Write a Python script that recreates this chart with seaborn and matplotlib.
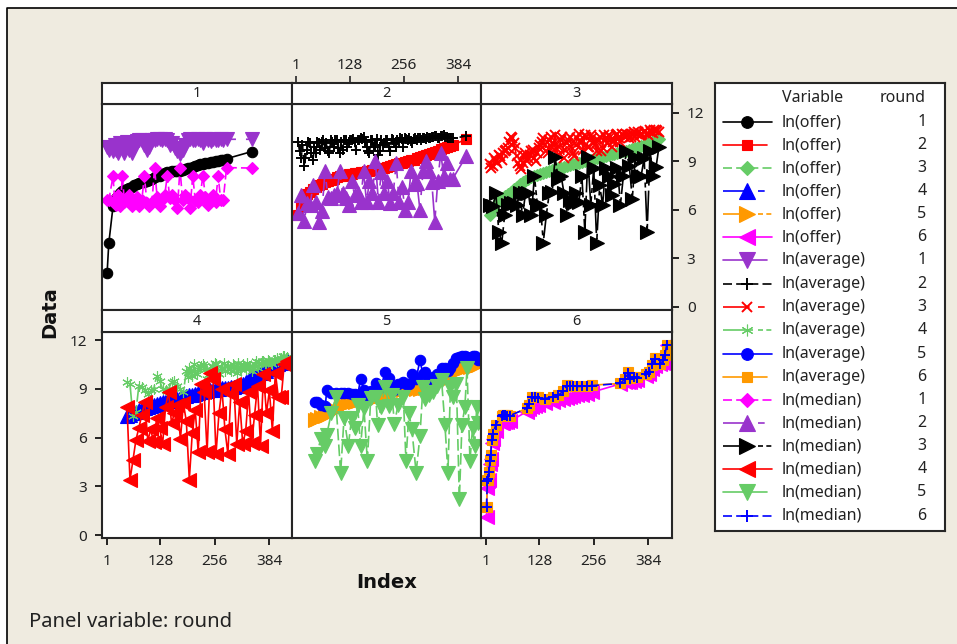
import pandas as pd
import matplotlib
matplotlib.use("Agg")
import matplotlib.pyplot as plt
import seaborn as sns

W, H = 957, 644
BG = "#EFEBE0"

x1 = [2,6,16,20,24,28,33,38,43,48,54,60,66,72,78,84,90,96,102,108,114,120,126,132,138,144,150,156,162,168,174,180,186,192,198,204,210,216,222,228,234,240,246,252,258,264,270,276,284,343]
offer1 = [2.06,3.92,6.2,6.5,6.7,6.85,7.0,7.13,7.2,7.28,7.36,7.42,7.5,7.56,7.62,7.68,7.72,7.78,7.85,7.92,8.0,8.05,8.1,8.18,8.24,8.3,8.34,8.37,8.38,8.4,8.42,8.45,8.5,8.55,8.6,8.65,8.7,8.75,8.8,8.85,8.88,8.9,8.93,8.96,9.0,9.02,9.05,9.1,9.15,9.59]
average1 = [9.85,9.7,9.6,10.0,9.7,9.5,10.1,9.8,9.5,10.2,9.7,9.5,9.9,10.25,10.3,10.3,10.0,9.7,9.9,10.3,10.3,10.35,10.35,10.3,10.35,10.3,10.0,10.1,9.8,9.6,9.45,9.7,10.0,10.3,10.35,10.3,10.3,10.35,10.3,10.1,10.35,10.3,10.25,10.35,10.3,10.3,10.35,10.3,10.35,10.35]
median1 = [6.6,6.6,8.05,6.6,6.3,6.9,6.2,8.05,6.5,6.7,6.9,6.2,6.6,6.8,6.2,6.6,8.1,6.4,6.2,6.5,8.57,6.8,6.2,6.6,6.9,8.1,6.7,6.9,6.6,6.1,8.57,6.6,6.9,6.7,6.1,8.1,6.6,6.5,6.9,8.1,6.8,6.3,6.7,6.9,6.5,8.1,6.6,6.6,8.6,8.57]

x2 = [7,14,21,28,35,42,49,56,63,70,77,84,91,98,105,112,119,126,133,140,147,154,161,168,175,182,189,196,203,210,217,224,231,238,245,252,259,266,273,280,287,294,301,308,315,322,329,336,343,350,357,364,371,403]
offer2 = [5.68,6.3,6.75,6.95,7.1,7.25,7.4,7.5,7.6,7.7,7.78,7.85,7.92,8.0,8.05,8.1,8.15,8.18,8.22,8.25,8.28,8.32,8.35,8.38,8.42,8.46,8.5,8.53,8.56,8.6,8.65,8.7,8.75,8.8,8.86,8.9,8.95,9.0,9.05,9.1,9.17,9.23,9.3,9.36,9.43,9.5,9.57,9.65,9.72,9.8,9.85,9.92,9.98,10.36]
average2 = [10.2,9.2,8.7,9.7,10.1,9.1,9.5,10.1,10.2,9.8,9.6,10.3,9.9,10.3,9.5,9.7,10.3,10.2,10.3,10.2,10.3,10.4,10.5,9.9,9.5,10.3,10.0,9.4,10.3,10.1,10.3,9.6,10.3,9.9,10.2,10.35,10.4,10.3,10.25,10.35,10.3,10.45,10.4,10.35,10.45,10.5,10.55,10.4,10.55,10.6,10.5,10.45,10.4,10.55]
median2 = [5.8,6.9,5.3,6.4,6.3,7.55,6.5,5.25,5.9,8.36,6.8,6.7,6.9,7.0,8.36,7.0,6.7,6.3,7.75,6.9,7.0,6.5,8.36,6.5,7.75,7.0,8.98,6.5,8.35,7.0,7.75,6.4,7.0,8.88,6.5,7.4,5.98,6.5,8.36,7.6,7.65,5.98,8.36,8.98,8.36,7.7,5.25,7.75,9.5,8.1,8.9,7.9,7.9,9.3]
x2_extra = [10,17,24,31,38,45,52,59,66,73,80,87,94,101,108,115,122,129,136,143,150,157,164,171,178,185,192,199,206,213,220,227,234,241,248,255,262,269,276,283,290,297,304,311,318,325,332,339,346,353,360,367]
average2_extra = [9.6,10.0,9.2,10.2,9.5,9.9,10.2,9.7,10.3,10.1,9.5,10.2,10.3,9.8,10.2,10.3,9.9,10.3,10.35,9.7,10.3,10.35,10.2,9.6,10.3,9.9,10.35,9.6,10.0,10.3,9.9,10.35,10.1,10.3,10.4,9.9,10.35,10.4,10.1,10.45,10.4,10.3,10.45,10.5,10.4,10.5,10.55,10.45,10.55,10.5,10.45,10.4]

x3 = [11,18,25,32,39,46,53,60,67,74,81,88,95,102,109,116,123,130,137,144,151,158,165,172,179,186,193,200,207,214,221,228,235,242,249,256,263,270,277,284,291,298,305,312,319,326,333,340,347,354,361,368,375,382,389,396,403,410]
offer3 = [5.68,6.05,6.35,6.6,6.72,6.85,6.98,7.1,7.25,7.4,7.6,7.7,7.8,7.9,8.0,8.07,8.13,8.2,8.27,8.35,8.4,8.45,8.5,8.55,8.6,8.65,8.7,8.75,8.8,8.85,8.9,8.94,8.98,9.03,9.08,9.13,9.18,9.23,9.28,9.33,9.38,9.42,9.46,9.5,9.55,9.6,9.65,9.7,9.75,9.8,9.87,9.95,10.02,10.1,10.18,10.25,10.3,10.36]
average3 = [8.8,8.7,9.0,9.4,9.1,9.6,9.8,10.5,10.1,9.3,8.7,8.9,9.5,9.2,9.6,9.2,9.5,10.0,10.4,9.6,10.3,9.9,10.6,9.4,10.3,9.2,10.1,10.5,9.5,10.0,10.7,10.2,10.6,9.9,10.6,10.2,9.6,10.5,9.8,10.4,10.6,9.9,10.3,10.7,10.2,10.6,10.7,10.4,10.7,10.5,10.8,10.6,10.8,10.7,10.9,10.75,10.9,10.8]
median3 = [6.3,6.2,7.0,4.65,3.97,5.7,6.3,6.4,6.4,6.3,7.0,5.64,7.0,7.0,5.64,8.1,6.3,6.3,3.97,5.64,7.0,7.1,9.25,7.9,8.1,7.0,5.64,6.6,6.4,7.0,6.5,8.1,4.65,9.25,6.3,8.57,3.97,7.5,6.3,8.6,8.1,6.9,7.6,8.6,6.3,8.1,9.64,8.67,6.67,9.25,8.1,8.1,9.2,4.65,9.6,8.1,8.63,9.9]
x3_extra = [14,21,28,35,42,49,56,63,70,77,84,91,98,105,112,119,126,133,140,147,154,161,168,175,182,189,196,203,210,217,224,231,238,245,252,259,266,273,280,287,294,301,308,315,322,329,336,343,350,357,364,371,378,385,392,399,406]
average3_extra = [8.6,9.2,8.9,9.3,9.5,9.7,10.2,10.4,9.8,8.9,8.5,9.3,9.0,9.4,9.7,9.0,9.8,10.2,10.0,9.5,10.5,10.1,9.8,9.9,10.5,9.7,10.3,9.9,9.3,10.4,10.2,9.7,10.5,9.9,10.4,10.0,10.3,9.6,10.6,10.1,10.5,10.2,10.6,10.4,10.7,10.5,10.6,10.5,10.8,10.7,10.6,10.7,10.85,10.6,10.8,10.9,10.85]

x4 = [49,56,63,70,77,84,91,98,105,112,119,126,133,140,147,154,161,168,175,182,189,196,203,210,217,224,231,238,245,252,259,266,273,280,287,294,301,308,315,322,329,336,343,350,357,364,371,378,385,392,399,406,413,420,427]
offer4 = [7.3,7.4,7.5,7.6,7.7,7.75,7.85,7.9,7.97,8.02,8.08,8.13,8.18,8.23,8.27,8.3,8.35,8.4,8.45,8.5,8.55,8.6,8.65,8.7,8.75,8.8,8.84,8.88,8.92,8.95,8.98,9.0,9.03,9.05,9.07,9.1,9.12,9.15,9.2,9.3,9.45,9.6,9.68,9.75,9.85,9.95,10.02,10.1,10.2,10.3,10.4,10.5,10.6,10.7,10.8]
average4 = [9.4,9.3,7.3,7.6,9.2,9.1,8.9,8.7,8.9,9.0,9.8,9.5,9.0,8.9,9.0,9.4,9.5,9.2,9.0,8.8,10.1,10.3,9.8,10.0,10.2,10.4,10.4,9.6,10.1,10.4,10.5,9.9,10.3,10.1,10.4,10.1,10.4,10.0,10.2,10.5,10.2,10.4,10.1,10.5,10.3,10.6,10.7,10.5,10.7,10.5,10.8,10.7,10.9,11.0,10.95]
median4 = [7.9,3.39,4.6,5.85,6.6,7.4,8.2,5.8,6.5,5.7,7.2,6.6,5.6,7.9,8.82,6.9,7.5,8.0,5.9,8.1,7.0,3.39,6.3,7.7,5.1,9.3,8.8,5.1,9.95,9.6,5.0,7.5,9.0,6.5,5.0,8.7,9.3,5.6,8.2,5.6,6.4,8.8,5.65,7.4,9.2,5.5,9.9,7.5,8.9,6.4,10.0,8.5,8.5,10.55,10.7]
x4_extra = [193,200,207,214,221,228,235,242,249,256,263,270,277,284,291,298,305,312,319,326,333,340,347,354,361,368,375,382,389,396,403,410,417,424]
average4_extra = [9.7,10.1,10.5,9.9,10.3,10.5,10.2,9.9,10.4,10.6,10.0,10.3,10.6,10.4,10.2,10.5,10.3,10.6,10.2,10.4,10.6,10.4,10.3,10.7,10.5,10.7,10.6,10.8,10.6,10.8,10.9,10.8,11.0,10.9]

x5 = [47,51,60,71,74,85,95,107,115,125,133,140,147,154,162,170,178,190,194,202,212,221,228,234,242,255,261,268,275,285,294,301,306,315,325,335,345,353,360,366,373,380,387,393,400,405,412,418,423,428,432]
offer5 = [7.08,7.12,7.25,7.35,7.4,7.55,7.7,7.9,8.0,8.12,8.18,8.22,8.27,8.3,8.33,8.36,8.38,8.45,8.48,8.55,8.6,8.68,8.74,8.8,8.87,8.93,8.95,8.97,8.98,9.0,9.02,9.05,9.08,9.12,9.22,9.32,9.45,9.6,9.75,9.85,9.98,10.1,10.2,10.25,10.3,10.33,10.37,10.4,10.42,10.45,10.46]
average5 = [8.21,8.21,8.0,7.94,8.93,8.75,8.75,8.75,8.72,8.75,8.7,8.7,8.6,9.6,8.9,8.6,8.85,9.33,9.2,9.1,10.05,9.64,9.1,8.9,9.3,9.44,9.3,9.3,9.9,9.6,10.77,9.9,10.05,9.6,9.7,9.9,10.26,10.3,10.1,10.3,10.6,10.9,10.97,11.0,11.0,10.95,10.9,11.0,11.0,10.9,10.77]
median5 = [4.58,5.0,5.9,5.5,6.16,7.5,8.47,3.84,7.2,5.5,7.2,6.57,8.0,5.5,7.8,4.58,8.41,8.5,6.77,7.9,9.1,7.94,8.6,6.83,8.0,8.47,4.58,7.5,6.5,3.84,6.1,9.1,8.4,8.6,8.8,9.2,9.54,6.77,3.84,9.1,8.47,9.3,2.2,6.77,7.9,10.26,4.58,6.6,5.5,7.9,6.9]

x6 = [3,5,7,9,11,13,15,18,25,39,43,47,51,58,98,104,110,118,125,140,159,172,184,192,200,208,216,228,240,253,318,330,338,342,350,357,380,387,393,401,412,420,424,428]
offer6 = [1.13,2.9,3.3,3.4,4.4,4.7,5.65,5.9,6.4,6.87,6.9,6.93,6.95,7.0,7.6,7.75,7.9,7.95,8.0,8.1,8.2,8.3,8.37,8.45,8.5,8.55,8.6,8.65,8.7,8.8,9.3,9.4,9.45,9.45,9.5,9.55,9.8,9.9,10.2,10.4,10.56,10.6,11.0,11.69]
average6 = [1.75,3.39,3.4,3.9,4.6,4.93,5.85,6.2,6.8,7.35,7.39,7.4,7.4,7.35,7.8,8.0,8.5,8.5,8.5,8.4,8.5,8.6,8.88,9.23,9.15,9.2,9.17,9.15,9.2,9.23,9.33,9.6,10.05,9.64,9.7,9.7,9.9,10.05,10.46,10.87,10.5,10.77,11.08,11.69]
median6 = [1.7,3.35,3.45,3.9,4.55,4.95,5.85,6.2,6.8,7.35,7.4,7.4,7.35,7.35,7.8,8.05,8.5,8.5,8.45,8.4,8.5,8.6,8.85,9.2,9.15,9.2,9.15,9.15,9.2,9.2,9.33,9.6,10.0,9.6,9.7,9.65,9.9,10.05,10.5,10.85,10.5,10.75,11.1,11.7]

x_ticks = [1, 128, 256, 384]
y_ticks = [0, 3, 6, 9, 12]
rounds = [1, 2, 3, 4, 5, 6]
variables = ["ln(offer)", "ln(average)", "ln(median)"]

# colour, marker, marker size, line style for every legend row
green = "#66CC66"
purple = "#9933CC"
orange = "#FF9900"
dash = (0, (5.4, 2.5))
long_dash = (0, (16, 5, 4, 5))
long_dots = (0, (18, 3, 3, 2, 3, 2))
styles = {
    ("ln(offer)", 1): ("black", "o", 7.5, "-"),
    ("ln(offer)", 2): ("red", "s", 6.5, "-"),
    ("ln(offer)", 3): (green, "D", 6.5, dash),
    ("ln(offer)", 4): ("blue", "^", 10, long_dash),
    ("ln(offer)", 5): (orange, ">", 10, long_dots),
    ("ln(offer)", 6): ("magenta", "<", 10, "-"),
    ("ln(average)", 1): (purple, "v", 10, "-"),
    ("ln(average)", 2): ("black", "+", 7.5, dash),
    ("ln(average)", 3): ("red", "x", 7, long_dash),
    ("ln(average)", 4): (green, (6, 2, 0), 7.5, long_dots),
    ("ln(average)", 5): ("blue", "o", 7.5, "-"),
    ("ln(average)", 6): (orange, "s", 6.5, "-"),
    ("ln(median)", 1): ("magenta", "D", 6.5, dash),
    ("ln(median)", 2): (purple, "^", 10, long_dash),
    ("ln(median)", 3): ("black", ">", 10, long_dots),
    ("ln(median)", 4): ("red", "<", 10, "-"),
    ("ln(median)", 5): (green, "v", 10, "-"),
    ("ln(median)", 6): ("blue", "+", 7.5, dash),
}

# the vertical runs of these series show a dash in the panels
panel_ls = {("ln(median)", 5): (0, (7, 2.5)), ("ln(average)", 1): (0, (9, 6))}
short_keys = [("ln(offer)", 2), ("ln(average)", 1), ("ln(average)", 6), ("ln(median)", 5)]

panels = {
    1: (x1, offer1, average1, median1),
    2: (x2, offer2, average2, median2),
    3: (x3, offer3, average3, median3),
    4: (x4, offer4, average4, median4),
    5: (x5, offer5, average5, median5),
    6: (x6, offer6, average6, median6),
}
extras = {
    ("ln(average)", 2): (x2_extra, average2_extra),
    ("ln(average)", 3): (x3_extra, average3_extra),
    ("ln(average)", 4): (x4_extra, average4_extra),
}

sns.set_style("white")
plt.rcParams["font.family"] = ["Noto Sans", "DejaVu Sans"]
plt.rcParams["axes.linewidth"] = 1.5

fig = plt.figure(figsize=(W / 100, H / 100), dpi=100, facecolor=BG)


def px_axes(left, top, right, bottom, **kw):
    return fig.add_axes([left / W, 1 - bottom / H, (right - left) / W, (bottom - top) / H], **kw)


# white margin and thin frame round the graph window
frame = fig.add_axes([0, 0, 1, 1])
frame.set_xlim(0, W)
frame.set_ylim(H, 0)
frame.axis("off")
frame.axvspan(0, 7, color="white", lw=0)
frame.axhspan(0, 8, color="white", lw=0)
frame.plot([7, 7, W], [H, 8, 8], color="black", lw=1.2)

col_edges = [102, 292.3, 481, 671.5]
col_xlim = [(-10, 439), (-7, 438), (-10, 439.5)]
row_edges = [(82.7, 104, 310), (310, 331.5, 538.3)]

for r in rounds:
    row = (r - 1) // 3
    col = (r - 1) % 3
    strip_top, panel_top, panel_bottom = row_edges[row]
    ax = px_axes(col_edges[col], panel_top, col_edges[col + 1], panel_bottom)
    strip = px_axes(col_edges[col], strip_top, col_edges[col + 1], panel_top)

    x, offer, average, median = panels[r]
    for name, values in zip(variables, (offer, average, median)):
        df = pd.DataFrame({"Index": x, "Data": values})
        if (name, r) in extras:
            ex, ey = extras[(name, r)]
            df = pd.concat([df, pd.DataFrame({"Index": ex, "Data": ey})]).sort_values("Index")
        color, marker, size, ls = styles[(name, r)]
        ls = panel_ls.get((name, r), ls)
        sns.lineplot(data=df, x="Index", y="Data", ax=ax, estimator=None, sort=False, legend=False,
                     color=color, marker=marker, markersize=size, linestyle=ls, linewidth=1.2,
                     markeredgecolor=color, markeredgewidth=1.4 if marker in ("+", "x") else 0.8)

    ax.set_xlim(col_xlim[col])
    ax.set_ylim(-0.2, 12.53)
    ax.set_xlabel("")
    ax.set_ylabel("")
    ax.set_xticks(x_ticks)
    ax.set_yticks(y_ticks)
    ax.tick_params(left=False, bottom=False, labelleft=False, labelbottom=False,
                   length=5, width=1.2, labelsize=11, color="black", labelcolor="#222222")

    strip.set_xlim(ax.get_xlim())
    strip.set_yticks([])
    strip.set_xticks([])
    strip.text(0.5, 0.47, str(r), transform=strip.transAxes, ha="center", va="center",
               fontsize=10.5, color="#222222")

    if r == 2:
        strip.set_xticks(x_ticks)
        strip.tick_params(top=True, bottom=False, labeltop=True, labelbottom=False, pad=2,
                          length=5, width=1.2, labelsize=11, labelcolor="#222222")
    if r == 3:
        ax.yaxis.tick_right()
        ax.tick_params(right=True, labelright=True, pad=6)
    if r == 4:
        ax.tick_params(left=True, labelleft=True, pad=3)
    if r in (4, 6):
        ax.tick_params(bottom=True, labelbottom=True, pad=6)

# legend box
leg = px_axes(715, 82.7, 945, 531)
leg.set_xlim(715, 945)
leg.set_ylim(531, 82.7)
leg.set_xticks([])
leg.set_yticks([])
leg.text(782, 98, "Variable", va="center", fontsize=11.5, color="#222222")
leg.text(880, 98, "round", va="center", fontsize=11.5, color="#222222")
row_y = [122, 145, 168, 191, 214, 237, 260, 284, 307, 330, 354, 377, 400, 423, 446, 469, 492, 516]
i = 0
for name in variables:
    for r in rounds:
        color, marker, size, ls = styles[(name, r)]
        y = row_y[i]
        end = 767 if (name, r) in short_keys else 772
        leg.plot([723, end], [y, y], color=color, lw=1.2, ls=ls)
        leg.plot([747], [y], color=color, marker=marker, ms=size * 1.12, mec=color,
                 mew=1.4 if marker in ("+", "x") else 0.8)
        leg.text(782, y, name, va="center", fontsize=11.5, color="#222222")
        leg.text(922, y, str(r), va="center", ha="center", fontsize=11.5, color="#222222")
        i += 1

fig.text(50 / W, 1 - 312 / H, "Data", rotation=90, ha="center", va="center",
         fontsize=14, fontweight="bold", family="DejaVu Sans", color="#111111")
fig.text(387 / W, 1 - 582 / H, "Index", ha="center", va="center",
         fontsize=14, fontweight="bold", family="DejaVu Sans", color="#111111")
fig.text(29 / W, 1 - 622 / H, "Panel variable: round", ha="left", va="center",
         fontsize=14.6, color="#222222")

plt.savefig("out.png", dpi=100, facecolor=BG)
